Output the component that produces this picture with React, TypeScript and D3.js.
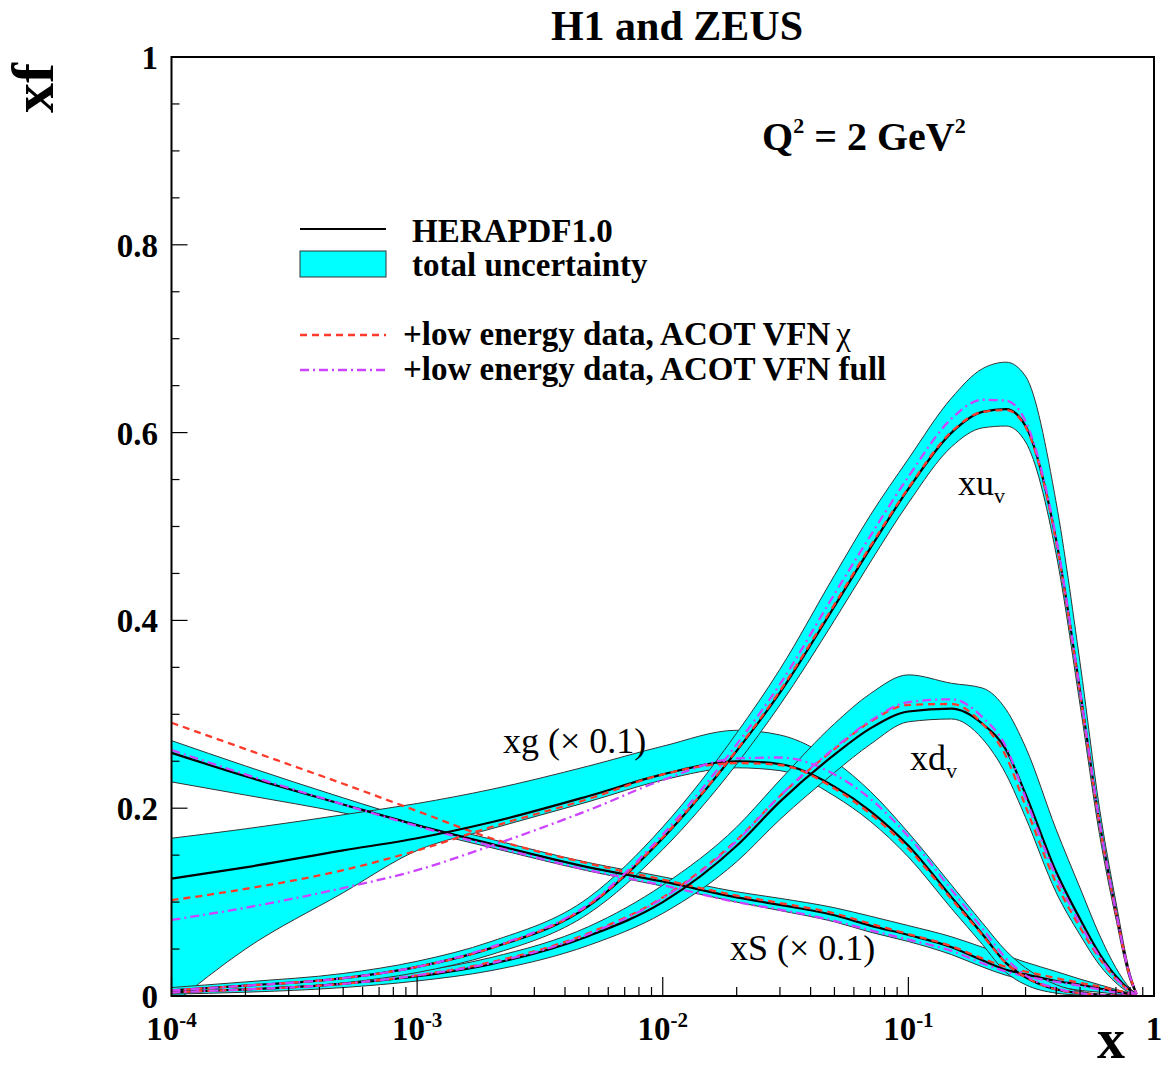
import React from "react";
import * as d3 from "d3";

// ---- data (x grid shared by all curves) ----
const xGrid = [1e-4, 2e-4, 5e-4, 1e-3, 2e-3, 5e-3, 1e-2, 2e-2, 3e-2, 5e-2, 0.07, 0.1, 0.15, 0.2, 0.25, 0.3, 0.4, 0.5, 0.6, 0.7, 0.8, 0.85];

// xu_v
const uvCentral = [0.006, 0.011, 0.019, 0.031, 0.051, 0.096, 0.168, 0.261, 0.323, 0.415, 0.477, 0.54, 0.6, 0.622, 0.625, 0.607, 0.485, 0.325, 0.185, 0.09, 0.02, 0.002];
const uvUpper = [0.009, 0.015, 0.024, 0.037, 0.058, 0.105, 0.18, 0.28, 0.348, 0.448, 0.512, 0.572, 0.637, 0.668, 0.675, 0.66, 0.525, 0.355, 0.2, 0.1, 0.024, 0.003];
const uvLower = [0.003, 0.007, 0.014, 0.025, 0.044, 0.088, 0.156, 0.247, 0.31, 0.4, 0.462, 0.525, 0.585, 0.605, 0.607, 0.59, 0.47, 0.31, 0.172, 0.082, 0.016, 0.001];
const uvRed = [0.006, 0.011, 0.019, 0.031, 0.051, 0.097, 0.169, 0.262, 0.325, 0.417, 0.479, 0.541, 0.601, 0.622, 0.624, 0.606, 0.483, 0.322, 0.183, 0.089, 0.02, 0.002];
const uvMag = [0.006, 0.011, 0.019, 0.031, 0.052, 0.098, 0.172, 0.268, 0.332, 0.428, 0.49, 0.553, 0.615, 0.635, 0.634, 0.612, 0.487, 0.325, 0.185, 0.09, 0.02, 0.002];

// xd_v
const dvCentral = [0.004, 0.007, 0.013, 0.021, 0.034, 0.064, 0.1, 0.16, 0.207, 0.257, 0.285, 0.303, 0.306, 0.29, 0.262, 0.215, 0.132, 0.082, 0.045, 0.021, 0.006, 0.001];
const dvUpper = [0.006, 0.01, 0.017, 0.026, 0.041, 0.074, 0.118, 0.18, 0.23, 0.29, 0.322, 0.342, 0.333, 0.328, 0.305, 0.265, 0.177, 0.115, 0.065, 0.03, 0.008, 0.002];
const dvLower = [0.002, 0.004, 0.009, 0.016, 0.027, 0.054, 0.088, 0.143, 0.188, 0.238, 0.268, 0.292, 0.295, 0.274, 0.236, 0.19, 0.11, 0.065, 0.033, 0.014, 0.003, 0.0005];
const dvRed = [0.004, 0.007, 0.013, 0.022, 0.036, 0.067, 0.105, 0.166, 0.213, 0.263, 0.292, 0.31, 0.311, 0.29, 0.255, 0.202, 0.12, 0.073, 0.04, 0.018, 0.005, 0.001];
const dvMag = [0.004, 0.007, 0.013, 0.022, 0.035, 0.066, 0.104, 0.165, 0.213, 0.264, 0.293, 0.313, 0.316, 0.297, 0.265, 0.211, 0.127, 0.077, 0.042, 0.019, 0.005, 0.001];

// xg (x 0.1)
const gCentral = [0.125, 0.137, 0.155, 0.168, 0.185, 0.213, 0.236, 0.25, 0.247, 0.223, 0.197, 0.16, 0.105, 0.066, 0.035, 0.02, 0.007, 0.003, 0.001, 0.0005, 0.0002, 0.0001];
const gUpper = [0.168, 0.178, 0.193, 0.205, 0.22, 0.245, 0.266, 0.283, 0.278, 0.25, 0.218, 0.174, 0.118, 0.078, 0.048, 0.03, 0.012, 0.005, 0.002, 0.001, 0.0004, 0.0002];
const gLower = [-0.01, 0.05, 0.11, 0.155, 0.178, 0.207, 0.23, 0.243, 0.24, 0.213, 0.186, 0.148, 0.093, 0.055, 0.025, 0.012, 0.003, 0.001, 0.0005, 0.0002, 0.0001, 0];
const gRed = [0.102, 0.114, 0.134, 0.155, 0.18, 0.21, 0.236, 0.248, 0.246, 0.221, 0.194, 0.157, 0.103, 0.065, 0.035, 0.02, 0.007, 0.003, 0.001, 0.0005, 0.0002, 0.0001];
const gMag = [0.081, 0.094, 0.115, 0.134, 0.16, 0.198, 0.23, 0.253, 0.254, 0.236, 0.21, 0.17, 0.113, 0.072, 0.04, 0.022, 0.008, 0.003, 0.001, 0.0005, 0.0002, 0.0001];

// xS (x 0.1)
const sCentral = [0.259, 0.234, 0.204, 0.182, 0.162, 0.137, 0.122, 0.105, 0.097, 0.086, 0.075, 0.065, 0.052, 0.038, 0.028, 0.023, 0.016, 0.012, 0.008, 0.005, 0.002, 0.001];
const sUpper = [0.272, 0.245, 0.211, 0.187, 0.167, 0.142, 0.127, 0.111, 0.104, 0.094, 0.085, 0.075, 0.063, 0.052, 0.043, 0.036, 0.026, 0.018, 0.012, 0.007, 0.003, 0.001];
const sLower = [0.228, 0.214, 0.195, 0.177, 0.158, 0.133, 0.117, 0.1, 0.091, 0.079, 0.068, 0.058, 0.044, 0.031, 0.022, 0.017, 0.01, 0.006, 0.004, 0.002, 0.001, 0.0005];
const sRed = [0.291, 0.263, 0.226, 0.197, 0.168, 0.141, 0.124, 0.107, 0.099, 0.088, 0.077, 0.066, 0.053, 0.04, 0.031, 0.026, 0.019, 0.014, 0.01, 0.006, 0.003, 0.001];
const sMag = [0.262, 0.236, 0.204, 0.181, 0.16, 0.134, 0.118, 0.1, 0.092, 0.08, 0.07, 0.06, 0.048, 0.035, 0.026, 0.021, 0.015, 0.011, 0.007, 0.004, 0.002, 0.001];

// axis ticks
const xMajor = [1e-4, 1e-3, 1e-2, 1e-1, 1];
const xMajorExp = ["-4", "-3", "-2", "-1", ""];
const yMajor = [0, 0.2, 0.4, 0.6, 0.8, 1];
const yMajorLabels = ["0", "0.2", "0.4", "0.6", "0.8", "1"];

const FONT = "'Liberation Serif', 'Times New Roman', Times, serif";
const CYAN = "#00ffff";
const RED = "#ff3a2a";
const MAG = "#cc44ff";

export default function App() {
  const X = d3.scaleLog().domain([1e-4, 1]).range([171.5, 1154]);
  const Y = d3.scaleLinear().domain([0, 1]).range([996, 57]);
  const [xl, xr] = X.range();
  const [yb, yt] = Y.range();

  const line = d3
    .line<number>()
    .x((_, i) => X(xGrid[i]))
    .y((d) => Y(d))
    .curve(d3.curveMonotoneX);
  const area = (lo: number[], hi: number[]) =>
    d3
      .area<number>()
      .x((_, i) => X(xGrid[i]))
      .y0((_, i) => Y(lo[i]))
      .y1((d) => Y(d))
      .curve(d3.curveMonotoneX)(hi) as string;

  const pdfs = [
    { c: sCentral, u: sUpper, l: sLower, r: sRed, m: sMag },
    { c: gCentral, u: gUpper, l: gLower, r: gRed, m: gMag },
    { c: dvCentral, u: dvUpper, l: dvLower, r: dvRed, m: dvMag },
    { c: uvCentral, u: uvUpper, l: uvLower, r: uvRed, m: uvMag },
  ];

  const xMinor: number[] = [];
  for (let e = -4; e < 0; e++) for (let k = 2; k <= 9; k++) xMinor.push(k * Math.pow(10, e));
  const yMinor = d3.range(0, 1.0001, 0.05).filter((v) => Math.abs(v * 5 - Math.round(v * 5)) > 1e-6);

  return (
    <div>
      <style>{`body{margin:0}`}</style>
      <svg width={1164} height={1071} style={{ display: "block", background: "#fff" }} fontFamily={FONT}>
        <defs>
          <clipPath id="frame">
            <rect x={xl} y={yt} width={xr - xl} height={yb - yt} />
          </clipPath>
        </defs>

        {/* title */}
        <text x={677} y={40} textAnchor="middle" fontSize={42} fontWeight="bold">
          H1 and ZEUS
        </text>

        <g clipPath="url(#frame)">
          {pdfs.map((p, i) => (
            <g key={"b" + i}>
              <path d={area(p.l, p.u)} fill={CYAN} stroke="none" />
              <path d={line(p.u) as string} fill="none" stroke="#333" strokeWidth={1} />
              <path d={line(p.l) as string} fill="none" stroke="#333" strokeWidth={1} />
            </g>
          ))}
          {pdfs.map((p, i) => (
            <g key={"l" + i}>
              <path d={line(p.c) as string} fill="none" stroke="#000" strokeWidth={2.2} />
              <path d={line(p.r) as string} fill="none" stroke={RED} strokeWidth={2.3} strokeDasharray="7,5" />
              <path d={line(p.m) as string} fill="none" stroke={MAG} strokeWidth={2.3} strokeDasharray="9,4,2,4" />
            </g>
          ))}
        </g>

        {/* frame */}
        <rect x={xl} y={yt} width={xr - xl} height={yb - yt} fill="none" stroke="#000" strokeWidth={2} />

        {/* x ticks */}
        {xMajor.map((v) => (
          <line key={"xM" + v} x1={X(v)} x2={X(v)} y1={yb} y2={yb - 19} stroke="#000" strokeWidth={1.2} />
        ))}
        {xMinor.map((v) => (
          <line key={"xm" + v} x1={X(v)} x2={X(v)} y1={yb} y2={yb - 9} stroke="#000" strokeWidth={1.2} />
        ))}
        {/* y ticks */}
        {yMajor.map((v) => (
          <line key={"yM" + v} x1={xl} x2={xl + 16} y1={Y(v)} y2={Y(v)} stroke="#000" strokeWidth={1.2} />
        ))}
        {yMinor.map((v) => (
          <line key={"ym" + v} x1={xl} x2={xl + 8} y1={Y(v)} y2={Y(v)} stroke="#000" strokeWidth={1.2} />
        ))}

        {/* x tick labels */}
        {xMajor.map((v, i) => (
          <text key={"xl" + v} x={X(v)} y={1040} textAnchor="middle" fontSize={33} fontWeight="bold">
            {xMajorExp[i] === "" ? (
              "1"
            ) : (
              <>
                10
                <tspan dy={-13} fontSize={21}>
                  {xMajorExp[i]}
                </tspan>
              </>
            )}
          </text>
        ))}
        {/* y tick labels */}
        {yMajor.map((v, i) => (
          <text key={"yl" + v} x={158} y={Y(v) + 12} textAnchor="end" fontSize={33} fontWeight="bold">
            {yMajorLabels[i]}
          </text>
        ))}

        {/* axis titles */}
        <text x={1125} y={1058} textAnchor="end" fontSize={56} fontWeight="bold">
          x
        </text>
        <text transform="translate(53,63) rotate(-90)" textAnchor="end" fontSize={60} fontWeight="bold">
          xf
        </text>

        {/* Q2 */}
        <text x={762} y={150} fontSize={40} fontWeight="bold">
          Q
          <tspan dy={-17} fontSize={22}>
            2
          </tspan>
          <tspan dy={17} fontSize={40}>
            {" = 2 GeV"}
          </tspan>
          <tspan dy={-17} fontSize={22}>
            2
          </tspan>
        </text>

        {/* legend */}
        <line x1={300} x2={386} y1={229} y2={229} stroke="#000" strokeWidth={2} />
        <text x={412} y={242} fontSize={33} fontWeight="bold">
          HERAPDF1.0
        </text>
        <rect x={300} y={251} width={86} height={26} fill={CYAN} stroke="#333" strokeWidth={1} />
        <text x={412} y={276} fontSize={33} fontWeight="bold">
          total uncertainty
        </text>
        <line x1={300} x2={386} y1={335} y2={335} stroke={RED} strokeWidth={2.3} strokeDasharray="7,5" />
        <text x={403} y={345} fontSize={33} fontWeight="bold">
          +low energy data, ACOT VFN
          <tspan fontWeight="normal" dx={6}>
            χ
          </tspan>
        </text>
        <line x1={300} x2={386} y1={370} y2={370} stroke={MAG} strokeWidth={2.3} strokeDasharray="9,4,2,4" />
        <text x={403} y={380} fontSize={33} fontWeight="bold">
          +low energy data, ACOT VFN full
        </text>

        {/* curve annotations */}
        <text x={503} y={753} fontSize={36}>
          xg (× 0.1)
        </text>
        <text x={730} y={960} fontSize={36}>
          xS (× 0.1)
        </text>
        <text x={958} y={495} fontSize={36}>
          xu
          <tspan dy={8} fontSize={22}>
            v
          </tspan>
        </text>
        <text x={910} y={770} fontSize={36}>
          xd
          <tspan dy={8} fontSize={22}>
            v
          </tspan>
        </text>
      </svg>
    </div>
  );
}
